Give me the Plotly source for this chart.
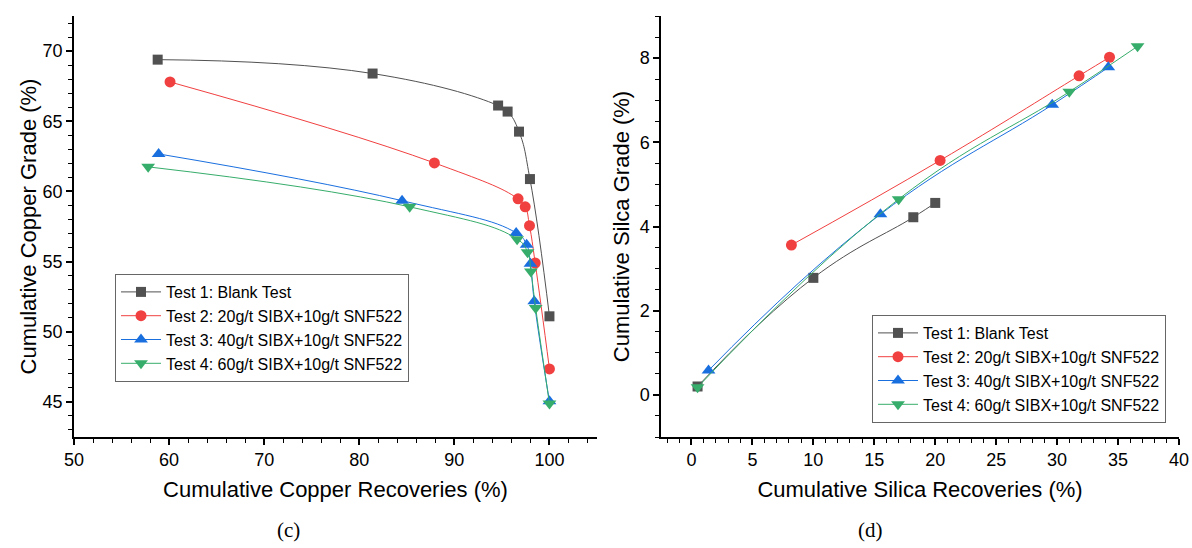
import plotly.graph_objects as go

# ---------- data: (c) copper ----------
cu_names = ["Test 1: Blank Test", "Test 2: 20g/t SIBX+10g/t SNF522",
            "Test 3: 40g/t SIBX+10g/t SNF522", "Test 4: 60g/t SIBX+10g/t SNF522"]
cu_t1_x = [58.8, 81.4, 94.6, 95.6, 96.8, 97.95, 100.0]
cu_t1_y = [69.39, 68.40, 66.12, 65.69, 64.26, 60.88, 51.1]
cu_t2_x = [60.1, 87.9, 96.7, 97.45, 97.9, 98.5, 100.0]
cu_t2_y = [67.8, 62.03, 59.47, 58.9, 57.56, 54.9, 47.35]
cu_t3_x = [58.9, 84.5, 96.5, 97.6, 98.0, 98.4, 100.0]
cu_t3_y = [62.67, 59.34, 57.04, 56.2, 54.85, 52.17, 45.04]
cu_t4_x = [57.8, 85.3, 96.6, 97.7, 98.05, 98.55, 100.0]
cu_t4_y = [61.75, 58.9, 56.6, 55.66, 54.3, 51.7, 44.88]

# ---------- data: (d) silica ----------
si_t1_x = [0.5, 10.0, 18.2, 20.0]
si_t1_y = [0.2, 2.78, 4.22, 4.56]
si_t2_x = [8.2, 20.4, 31.8, 34.3]
si_t2_y = [3.56, 5.57, 7.58, 8.02]
si_t3_x = [1.4, 15.5, 29.6, 34.2]
si_t3_y = [0.58, 4.29, 6.89, 7.78]
si_t4_x = [0.5, 17.0, 31.0, 36.6]
si_t4_y = [0.18, 4.65, 7.2, 8.28]

colors = ["#515151", "#F14040", "#1A6FDF", "#37AD6B"]
symbols = ["square", "circle", "triangle-up", "triangle-down"]
sizes = [10, 11, 12, 12]

fig = go.Figure()

cu_sets = [(cu_t1_x, cu_t1_y), (cu_t2_x, cu_t2_y), (cu_t3_x, cu_t3_y), (cu_t4_x, cu_t4_y)]
si_sets = [(si_t1_x, si_t1_y), (si_t2_x, si_t2_y), (si_t3_x, si_t3_y), (si_t4_x, si_t4_y)]

for i, (xs, ys) in enumerate(cu_sets):
    fig.add_trace(go.Scatter(
        x=xs, y=ys, mode="lines+markers", name=cu_names[i],
        line=dict(color=colors[i], width=1, shape="spline", smoothing=1.3),
        marker=dict(symbol=symbols[i], size=sizes[i], color=colors[i]),
        xaxis="x", yaxis="y", legend="legend"))

for i, (xs, ys) in enumerate(si_sets):
    fig.add_trace(go.Scatter(
        x=xs, y=ys, mode="lines+markers", name=cu_names[i],
        line=dict(color=colors[i], width=1, shape="spline", smoothing=1.3),
        marker=dict(symbol=symbols[i], size=sizes[i], color=colors[i]),
        xaxis="x2", yaxis="y2", legend="legend2"))

W, H = 1192, 548
def px_x(p):
    return p / W
def px_y(p):
    return (H - p) / H

axis_common = dict(
    showline=True, linecolor="black", linewidth=1.5, mirror=False,
    ticks="outside", ticklen=6, tickwidth=1.5, tickcolor="black",
    showgrid=False, zeroline=False, automargin=False, ticklabeloverflow="allow",
    tickfont=dict(family="Liberation Sans, Arial", size=18, color="black"),
    minor=dict(ticks="outside", ticklen=4, tickwidth=1.2, tickcolor="black", showgrid=False),
)
title_font = dict(family="Liberation Sans, Arial", size=22, color="black")

fig.update_layout(
    width=W, height=H,
    margin=dict(l=0, r=0, t=0, b=0),
    paper_bgcolor="white", plot_bgcolor="white",
    xaxis=dict(domain=[px_x(74), px_x(597)], range=[50, 105], dtick=10, tick0=50,
               anchor="y", title=dict(text="Cumulative Copper Recoveries (%)", font=title_font, standoff=12),
               **axis_common),
    yaxis=dict(domain=[px_y(437), px_y(16)], range=[42.5, 72.5], dtick=5, tick0=45,
               anchor="x", title=dict(text="Cumulative Copper Grade (%)", font=title_font, standoff=0),
               **axis_common),
    xaxis2=dict(domain=[px_x(661), px_x(1179)], range=[-2.5, 40], dtick=5, tick0=0,
                anchor="y2", title=dict(text="Cumulative Silica Recoveries (%)", font=title_font, standoff=12),
                **axis_common),
    yaxis2=dict(domain=[px_y(437), px_y(16)], range=[-1, 9], dtick=2, tick0=0,
                anchor="x2", title=dict(text="Cumulative Silca Grade (%)", font=title_font, standoff=4),
                **axis_common),
    legend=dict(x=px_x(115), y=px_y(274), xanchor="left", yanchor="top",
                bgcolor="white", bordercolor="#666666", borderwidth=1,
                font=dict(family="Liberation Sans, Arial", size=16, color="black"),
                itemwidth=40, tracegroupgap=0),
    legend2=dict(x=px_x(872), y=px_y(315), xanchor="left", yanchor="top",
                 bgcolor="white", bordercolor="#666666", borderwidth=1,
                 font=dict(family="Liberation Sans, Arial", size=16, color="black"),
                 itemwidth=40, tracegroupgap=0),
    annotations=[
        dict(text="(c)", x=px_x(288), y=px_y(530), xref="paper", yref="paper",
             xanchor="center", yanchor="middle",
             showarrow=False, font=dict(family="Liberation Serif, DejaVu Serif", size=21, color="black")),
        dict(text="(d)", x=px_x(870), y=px_y(530), xref="paper", yref="paper",
             xanchor="center", yanchor="middle",
             showarrow=False, font=dict(family="Liberation Serif, DejaVu Serif", size=21, color="black")),
    ],
)

fig.write_html(
    "out.html",
    config={"displayModeBar": False},
    post_script="document.body.style.margin='0';document.body.style.overflow='hidden';"
                "document.documentElement.style.overflow='hidden';",
)
